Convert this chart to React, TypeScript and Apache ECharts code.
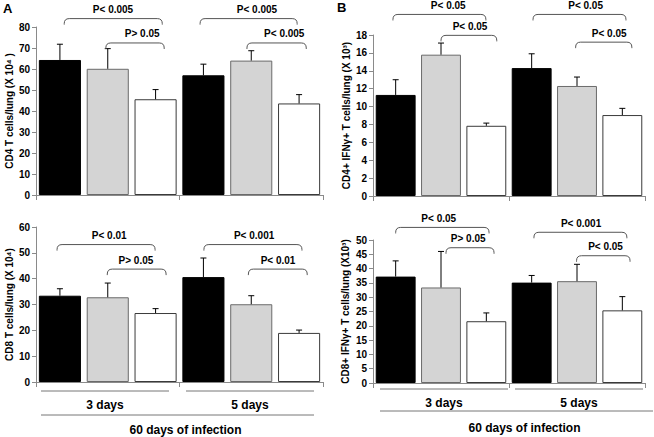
import React, { useEffect, useRef } from "react";
import * as echarts from "echarts";

// ---------- data ----------
const categories = ["3 days / group 1", "3 days / group 2", "3 days / group 3", "5 days / group 1", "5 days / group 2", "5 days / group 3"];

const cd4Values = [64.3, 60.1, 45.6, 57.0, 64.0, 43.6];
const cd4ErrTop = [71.8, 69.7, 50.2, 62.3, 68.7, 47.8];

const cd8Values = [33.4, 32.8, 26.7, 40.6, 30.1, 19.0];
const cd8ErrTop = [36.1, 38.3, 28.4, 48.0, 33.4, 20.1];

const cd4IfnValues = [11.3, 15.8, 7.85, 14.3, 12.3, 9.05];
const cd4IfnErrTop = [13.0, 17.1, 8.15, 15.9, 13.3, 9.8];

const cd8IfnValues = [37.2, 33.4, 21.6, 35.1, 35.6, 25.4];
const cd8IfnErrTop = [42.7, 46.0, 24.5, 37.6, 41.5, 30.2];

// significance brackets: start / end position in category units, top value, label position
const cd4BracketStart = [0.09, 0.96, 2.93, 3.91];
const cd4BracketEnd = [2.14, 2.18, 4.96, 5.15];
const cd4BracketTop = [84, 72.4, 84, 72.4];
const cd4BracketLabelX = [1.11, 1.72, 4.12, 4.69];
const cd4BracketLabels = ["P< 0.005", "P> 0.05", "P< 0.005", "P< 0.005"];

const cd8BracketStart = [-0.06, 0.99, 3.01, 3.94];
const cd8BracketEnd = [1.99, 2.22, 5.06, 5.17];
const cd8BracketTop = [53.2, 43.7, 53.2, 43.7];
const cd8BracketLabelX = [1.03, 1.59, 4.06, 4.56];
const cd8BracketLabels = ["P< 0.01", "P> 0.05", "P< 0.001", "P< 0.01"];

const cd4IfnBracketStart = [-0.06, 1.0, 3.03, 3.97];
const cd4IfnBracketEnd = [1.99, 2.23, 5.08, 5.21];
const cd4IfnBracketTop = [20.3, 17.96, 20.3, 17.2];
const cd4IfnBracketLabelX = [1.16, 1.64, 4.19, 4.71];
const cd4IfnBracketLabels = ["P< 0.05", "P< 0.05", "P< 0.05", "P< 0.05"];

const cd8IfnBracketStart = [0.0, 1.11, 3.05, 3.99];
const cd8IfnBracketEnd = [2.06, 2.17, 5.1, 5.17];
const cd8IfnBracketTop = [54.4, 47.3, 52.7, 44.5];
const cd8IfnBracketLabelX = [0.95, 1.6, 4.09, 4.63];
const cd8IfnBracketLabels = ["P< 0.05", "P> 0.05", "P< 0.001", "P< 0.05"];

const groupLabels = ["3 days", "5 days"];
const outerLabel = "60 days of infection";

// ---------- styles ----------
const FONT = '"Liberation Sans", Arial, Helvetica, sans-serif';
const barFills = ["#000000", "#d4d4d4", "#ffffff", "#000000", "#d4d4d4", "#ffffff"];
const barBorders = ["#000000", "#6a6a6a", "#3a3a3a", "#000000", "#6a6a6a", "#3a3a3a"];
const AXIS_COLOR = "#8a8a8a";

function barSeries(idx: number, values: number[]) {
  return {
    type: "bar",
    xAxisIndex: idx,
    yAxisIndex: idx,
    barCategoryGap: "12%",
    data: values.map((v, i) => ({
      value: v,
      itemStyle: { color: barFills[i], borderColor: barBorders[i], borderWidth: 1 },
    })),
    z: 2,
  };
}

function errorSeries(idx: number, values: number[], tops: number[]) {
  return {
    type: "custom",
    xAxisIndex: idx,
    yAxisIndex: idx,
    clip: false,
    silent: true,
    z: 4,
    data: values.map((v, i) => [i, v, tops[i]]),
    encode: { x: 0, y: [1, 2] },
    renderItem: (params: any, api: any) => {
      const base = api.coord([api.value(0), api.value(1)]);
      const top = api.coord([api.value(0), api.value(2)]);
      const w = 3;
      return {
        type: "group",
        children: [
          { type: "line", shape: { x1: base[0], y1: base[1], x2: top[0], y2: top[1] }, style: { stroke: "#000", lineWidth: 1 } },
          { type: "line", shape: { x1: top[0] - w, y1: top[1], x2: top[0] + w, y2: top[1] }, style: { stroke: "#000", lineWidth: 1 } },
        ],
      };
    },
  };
}

function bracketSeries(idx: number, starts: number[], ends: number[], tops: number[], labelXs: number[], labels: string[]) {
  return {
    type: "custom",
    xAxisIndex: idx,
    yAxisIndex: idx,
    clip: false,
    silent: true,
    z: 5,
    data: tops.map((t, i) => [i, 0]),
    renderItem: (params: any, api: any) => {
      const i = params.dataIndex;
      const band = api.size([1, 0])[0];
      const px = (pos: number) => {
        const b = Math.min(5, Math.max(0, Math.round(pos)));
        return api.coord([b, 0])[0] + (pos - b) * band;
      };
      const x1 = px(starts[i]);
      const x2 = px(ends[i]);
      const y = api.coord([0, tops[i]])[1];
      const drop = 6;
      const r = 5;
      const d = `M${x1},${y + drop} L${x1},${y + r} Q${x1},${y} ${x1 + r},${y} L${x2 - r},${y} Q${x2},${y} ${x2},${y + r} L${x2},${y + drop}`;
      return {
        type: "group",
        children: [
          { type: "path", shape: { pathData: d }, style: { fill: "none", stroke: "#555", lineWidth: 1 } },
          {
            type: "text",
            style: {
              text: labels[i],
              x: px(labelXs[i]),
              y: y - 9,
              align: "center",
              verticalAlign: "middle",
              font: `bold 10px ${FONT}`,
              fill: "#000",
            },
          },
        ],
      };
    },
  };
}

const grids = [
  { left: 36, top: 27, width: 287, height: 168 },
  { left: 36, top: 227, width: 287, height: 155 },
  { left: 373, top: 35, width: 272, height: 161 },
  { left: 373, top: 240, width: 272, height: 143 },
];

const yAxisSpecs = [
  { max: 80, interval: 10, name: "CD4 T cells/lung (X 10⁴ )", nameGap: 22 },
  { max: 60, interval: 10, name: "CD8 T cells/lung (X 10⁴)", nameGap: 22 },
  { max: 18, interval: 2, name: "CD4+ IFNγ+ T cells/lung (X 10³)", nameGap: 20 },
  { max: 50, interval: 5, name: "CD8+ IFNγ+ T cells/lung (X10³)", nameGap: 23 },
];

function groupGraphics(x0: number, x1: number, x2: number, x3: number, lineY: number, textY: number, outerX0: number, outerX1: number, outerLineY: number, outerTextY: number) {
  const lineStyle = { stroke: "#777", lineWidth: 1 };
  return [
    { type: "line", shape: { x1: x0, y1: lineY, x2: x1, y2: lineY }, style: lineStyle, silent: true },
    { type: "line", shape: { x1: x2, y1: lineY, x2: x3, y2: lineY }, style: lineStyle, silent: true },
    { type: "text", x: (x0 + x1) / 2, y: textY, style: { text: groupLabels[0], align: "center", verticalAlign: "middle", font: `bold 12px ${FONT}`, fill: "#000" }, silent: true },
    { type: "text", x: (x2 + x3) / 2, y: textY, style: { text: groupLabels[1], align: "center", verticalAlign: "middle", font: `bold 12px ${FONT}`, fill: "#000" }, silent: true },
    { type: "line", shape: { x1: outerX0, y1: outerLineY, x2: outerX1, y2: outerLineY }, style: lineStyle, silent: true },
    { type: "text", x: (outerX0 + outerX1) / 2 + 8, y: outerTextY, style: { text: outerLabel, align: "center", verticalAlign: "middle", font: `bold 12px ${FONT}`, fill: "#000" }, silent: true },
  ];
}

export default function App() {
  const ref = useRef<HTMLDivElement>(null);

  useEffect(() => {
    if (!ref.current) return;
    const chart = echarts.init(ref.current, null, { renderer: "svg" });

    const option: any = {
      animation: false,
      backgroundColor: "#ffffff",
      textStyle: { fontFamily: FONT },
      grid: grids,
      xAxis: grids.map((_, i) => ({
        type: "category",
        gridIndex: i,
        data: categories,
        boundaryGap: true,
        axisLabel: { show: false },
        axisLine: { lineStyle: { color: AXIS_COLOR, width: 1 } },
        axisTick: { show: true, length: 5, lineStyle: { color: AXIS_COLOR } },
        splitLine: { show: false },
      })),
      yAxis: yAxisSpecs.map((s, i) => ({
        type: "value",
        gridIndex: i,
        min: 0,
        max: s.max,
        interval: s.interval,
        name: s.name,
        nameLocation: "middle",
        nameRotate: 90,
        nameGap: s.nameGap,
        nameTextStyle: { color: "#000", fontWeight: "bold", fontSize: 10, fontFamily: FONT },
        axisLine: { show: true, lineStyle: { color: AXIS_COLOR, width: 1 } },
        axisTick: { show: true, length: 4, lineStyle: { color: AXIS_COLOR } },
        axisLabel: { color: "#000", fontWeight: "bold", fontSize: 10, fontFamily: FONT, margin: 6 },
        splitLine: { show: false },
      })),
      series: [
        barSeries(0, cd4Values),
        errorSeries(0, cd4Values, cd4ErrTop),
        bracketSeries(0, cd4BracketStart, cd4BracketEnd, cd4BracketTop, cd4BracketLabelX, cd4BracketLabels),
        barSeries(1, cd8Values),
        errorSeries(1, cd8Values, cd8ErrTop),
        bracketSeries(1, cd8BracketStart, cd8BracketEnd, cd8BracketTop, cd8BracketLabelX, cd8BracketLabels),
        barSeries(2, cd4IfnValues),
        errorSeries(2, cd4IfnValues, cd4IfnErrTop),
        bracketSeries(2, cd4IfnBracketStart, cd4IfnBracketEnd, cd4IfnBracketTop, cd4IfnBracketLabelX, cd4IfnBracketLabels),
        barSeries(3, cd8IfnValues),
        errorSeries(3, cd8IfnValues, cd8IfnErrTop),
        bracketSeries(3, cd8IfnBracketStart, cd8IfnBracketEnd, cd8IfnBracketTop, cd8IfnBracketLabelX, cd8IfnBracketLabels),
      ],
      graphic: [
        { type: "text", x: 3, y: 2, style: { text: "A", font: `bold 13px ${FONT}`, fill: "#000" }, silent: true },
        { type: "text", x: 337, y: 1, style: { text: "B", font: `bold 13px ${FONT}`, fill: "#000" }, silent: true },
        ...groupGraphics(41, 169, 186, 314, 391, 405, 41, 314, 415, 430),
        ...groupGraphics(380, 508, 515, 643, 389, 403, 380, 653, 411, 428),
      ],
    };

    chart.setOption(option);
    return () => chart.dispose();
  }, []);

  return (
    <div
      ref={ref}
      style={{ position: "fixed", left: 0, top: 0, width: 654, height: 437, background: "#fff" }}
    />
  );
}
